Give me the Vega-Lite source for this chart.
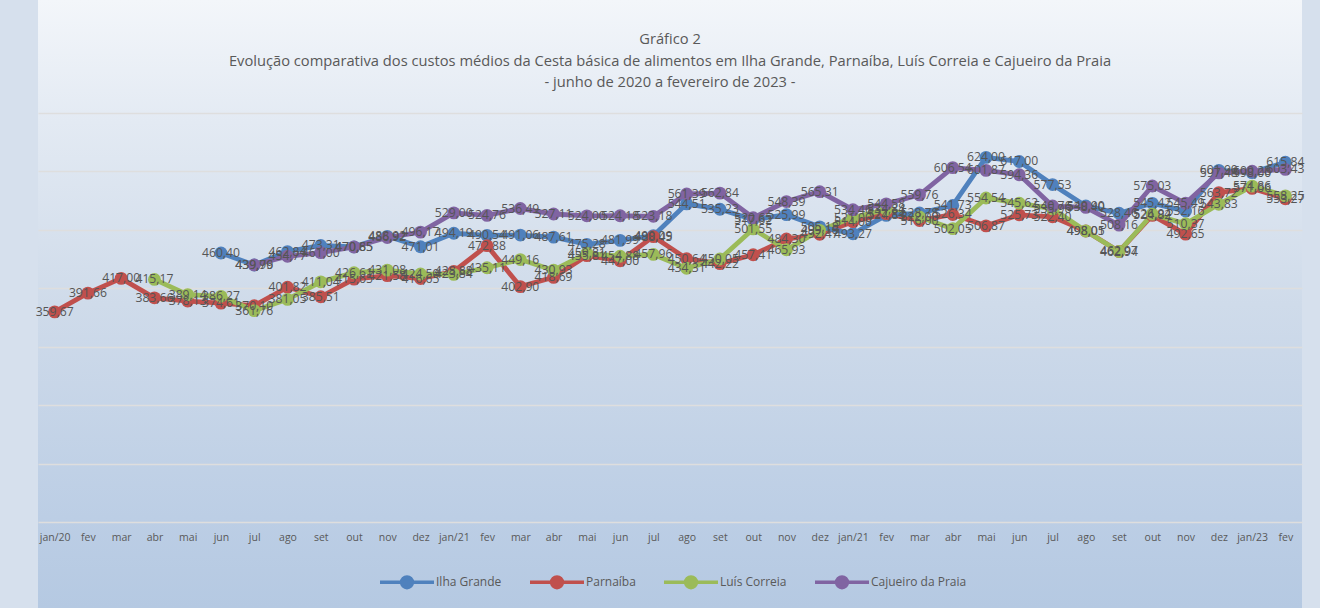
{
  "$schema": "https://vega.github.io/schema/vega-lite/v6.json",
  "width": 1264,
  "height": 608,
  "autosize": {"type": "none"},
  "padding": {"left": 38, "right": 18, "top": 0, "bottom": 0},
  "background": "#d6e0ed",
  "view": {
    "stroke": null,
    "fill": {"gradient": "linear", "x1": 0, "y1": 0, "x2": 0, "y2": 1,
      "stops": [{"offset": 0, "color": "#f3f6fa"}, {"offset": 0.2, "color": "#e3eaf3"}, {"offset": 0.5, "color": "#cfdbea"}, {"offset": 0.85, "color": "#bccee5"}, {"offset": 1, "color": "#b5c9e2"}]}
  },
  "title": {
    "text": ["Gráfico 2", "Evolução comparativa dos custos médios da Cesta básica de alimentos em Ilha Grande, Parnaíba, Luís Correia e Cajueiro da Praia", "- junho de 2020 a fevereiro de 2023 -"],
    "font": "Open Sans", "fontSize": 14.7, "fontWeight": "normal", "color": "#595959",
    "lineHeight": 21.5, "offset": -90, "anchor": "middle", "frame": "group"
  },
  "config": {
    "font": "Open Sans",
    "locale": {"number": {"decimal": ",", "thousands": ".", "grouping": [3], "currency": ["R$ ", ""]}}
  },
  "data": {"values": [
    {"i": 0, "Parnaíba": 359.67},
    {"i": 1, "Parnaíba": 391.66},
    {"i": 2, "Parnaíba": 417.00},
    {"i": 3, "Parnaíba": 383.66, "Luís Correia": 415.17},
    {"i": 4, "Parnaíba": 378.13, "Luís Correia": 389.14},
    {"i": 5, "Ilha Grande": 460.40, "Parnaíba": 374.61, "Luís Correia": 386.27},
    {"i": 6, "Ilha Grande": 439.79, "Parnaíba": 370.10, "Luís Correia": 361.76, "Cajueiro da Praia": 439.96},
    {"i": 7, "Ilha Grande": 462.84, "Parnaíba": 401.82, "Luís Correia": 381.05, "Cajueiro da Praia": 454.77},
    {"i": 8, "Ilha Grande": 473.31, "Parnaíba": 385.51, "Luís Correia": 411.04, "Cajueiro da Praia": 461.00},
    {"i": 9, "Ilha Grande": 470.85, "Parnaíba": 415.65, "Luís Correia": 426.61, "Cajueiro da Praia": 470.65},
    {"i": 10, "Ilha Grande": 488.92, "Parnaíba": 421.58, "Luís Correia": 431.08, "Cajueiro da Praia": 486.92},
    {"i": 11, "Ilha Grande": 471.01, "Parnaíba": 416.65, "Luís Correia": 424.50, "Cajueiro da Praia": 496.17},
    {"i": 12, "Ilha Grande": 494.19, "Parnaíba": 428.88, "Luís Correia": 423.84, "Cajueiro da Praia": 529.00},
    {"i": 13, "Ilha Grande": 490.54, "Parnaíba": 472.88, "Luís Correia": 435.11, "Cajueiro da Praia": 524.76},
    {"i": 14, "Ilha Grande": 491.06, "Parnaíba": 402.90, "Luís Correia": 449.16, "Cajueiro da Praia": 536.49},
    {"i": 15, "Ilha Grande": 487.61, "Parnaíba": 418.69, "Luís Correia": 430.93, "Cajueiro da Praia": 527.11},
    {"i": 16, "Ilha Grande": 475.28, "Parnaíba": 455.81, "Luís Correia": 459.81, "Cajueiro da Praia": 524.00},
    {"i": 17, "Ilha Grande": 481.99, "Parnaíba": 447.00, "Luís Correia": 454.88, "Cajueiro da Praia": 524.18},
    {"i": 18, "Ilha Grande": 490.09, "Parnaíba": 488.45, "Luís Correia": 457.96, "Cajueiro da Praia": 523.18},
    {"i": 19, "Ilha Grande": 544.51, "Parnaíba": 450.64, "Luís Correia": 434.31, "Cajueiro da Praia": 561.39},
    {"i": 20, "Ilha Grande": 535.23, "Parnaíba": 442.22, "Luís Correia": 450.05, "Cajueiro da Praia": 562.84},
    {"i": 21, "Ilha Grande": 517.62, "Parnaíba": 457.41, "Luís Correia": 501.55, "Cajueiro da Praia": 520.65},
    {"i": 22, "Ilha Grande": 525.99, "Parnaíba": 484.30, "Luís Correia": 465.93, "Cajueiro da Praia": 548.39},
    {"i": 23, "Ilha Grande": 505.18, "Parnaíba": 492.47, "Luís Correia": 499.18, "Cajueiro da Praia": 565.31},
    {"i": 24, "Ilha Grande": 493.27, "Parnaíba": 514.00, "Luís Correia": 521.00, "Cajueiro da Praia": 534.46},
    {"i": 25, "Ilha Grande": 524.83, "Parnaíba": 527.84, "Luís Correia": 534.84, "Cajueiro da Praia": 544.58},
    {"i": 26, "Ilha Grande": 528.78, "Parnaíba": 516.00, "Luís Correia": 522.00, "Cajueiro da Praia": 559.76},
    {"i": 27, "Ilha Grande": 541.73, "Parnaíba": 526.34, "Luís Correia": 502.05, "Cajueiro da Praia": 606.54},
    {"i": 28, "Ilha Grande": 624.00, "Parnaíba": 506.87, "Luís Correia": 554.54, "Cajueiro da Praia": 601.87},
    {"i": 29, "Ilha Grande": 617.00, "Parnaíba": 525.73, "Luís Correia": 545.62, "Cajueiro da Praia": 594.36},
    {"i": 30, "Ilha Grande": 577.53, "Parnaíba": 522.40, "Luís Correia": 535.96, "Cajueiro da Praia": 540.76},
    {"i": 31, "Ilha Grande": 540.90, "Parnaíba": 498.05, "Luís Correia": 498.01, "Cajueiro da Praia": 538.40},
    {"i": 32, "Ilha Grande": 528.46, "Parnaíba": 462.97, "Luís Correia": 462.94, "Cajueiro da Praia": 508.16},
    {"i": 33, "Ilha Grande": 545.42, "Parnaíba": 524.82, "Luís Correia": 526.94, "Cajueiro da Praia": 575.03},
    {"i": 34, "Ilha Grande": 532.16, "Parnaíba": 492.65, "Luís Correia": 510.37, "Cajueiro da Praia": 545.49},
    {"i": 35, "Ilha Grande": 601.90, "Parnaíba": 563.72, "Luís Correia": 543.83, "Cajueiro da Praia": 597.48},
    {"i": 36, "Ilha Grande": 598.00, "Parnaíba": 571.06, "Luís Correia": 574.86, "Cajueiro da Praia": 600.28},
    {"i": 37, "Ilha Grande": 615.84, "Parnaíba": 553.27, "Luís Correia": 558.25, "Cajueiro da Praia": 603.43}
  ]},
  "transform": [
    {"fold": ["Ilha Grande", "Parnaíba", "Luís Correia", "Cajueiro da Praia"], "as": ["serie", "valor"]},
    {"filter": "isValid(datum.valor)"}
  ],
  "encoding": {
    "x": {
      "field": "i", "type": "ordinal",
      "scale": {"type": "point", "padding": 0.5},
      "axis": {
        "title": null,
        "labelExpr": "['jan/20','fev','mar','abr','mai','jun','jul','ago','set','out','nov','dez','jan/21','fev','mar','abr','mai','jun','jul','ago','set','out','nov','dez','jan/21','fev','mar','abr','mai','jun','jul','ago','set','out','nov','dez','jan/23','fev'][datum.value]",
        "labelAngle": 0, "labelFontSize": 10.5, "labelColor": "#595959", "labelFont": "Open Sans",
        "domain": false, "ticks": false, "grid": false, "offset": -86, "labelPadding": 10
      }
    },
    "y": {
      "field": "valor", "type": "quantitative",
      "scale": {"domain": [-147.2, 893.4], "nice": false, "zero": false},
      "axis": {"values": [0, 100, 200, 300, 400, 500, 600, 700], "labels": false, "ticks": false, "domain": false, "title": null, "grid": true, "gridColor": "#dedede", "gridWidth": 1.6}
    }
  },
  "layer": [
    {
      "mark": {"type": "line", "strokeWidth": 4.8},
      "encoding": {
        "color": {
          "field": "serie", "type": "nominal",
          "scale": {"domain": ["Ilha Grande", "Parnaíba", "Luís Correia", "Cajueiro da Praia"], "range": ["#4F81BD", "#C0504D", "#9BBB59", "#8064A2"]},
          "legend": {
            "title": null, "orient": "none", "legendX": 340, "legendY": 553, "direction": "horizontal",
            "symbolType": "M-1,0L1,0M0.2,0A0.2,0.2,0,1,1,-0.2,0A0.2,0.2,0,1,1,0.2,0Z",
            "symbolSize": 2916, "symbolStrokeWidth": 3.5, "symbolOpacity": 1,
            "labelFontSize": 12, "labelColor": "#595959", "labelFont": "Open Sans", "labelOffset": 0, "columnPadding": 21,
            "encode": {"symbols": {"update": {"fill": {"scale": "color", "field": "value"}, "stroke": {"scale": "color", "field": "value"}, "opacity": {"value": 1}}}}
          }
        }
      }
    },
    {
      "mark": {"type": "circle", "size": 165, "opacity": 1},
      "encoding": {
        "color": {
          "field": "serie", "type": "nominal",
          "scale": {"domain": ["Ilha Grande", "Parnaíba", "Luís Correia", "Cajueiro da Praia"], "range": ["#4F81BD", "#C0504D", "#9BBB59", "#8064A2"]},
          "legend": {
            "title": null, "orient": "none", "legendX": 340, "legendY": 553, "direction": "horizontal",
            "symbolType": "M-1,0L1,0M0.2,0A0.2,0.2,0,1,1,-0.2,0A0.2,0.2,0,1,1,0.2,0Z",
            "symbolSize": 2916, "symbolStrokeWidth": 3.5, "symbolOpacity": 1,
            "labelFontSize": 12, "labelColor": "#595959", "labelFont": "Open Sans", "labelOffset": 0, "columnPadding": 21,
            "encode": {"symbols": {"update": {"fill": {"scale": "color", "field": "value"}, "stroke": {"scale": "color", "field": "value"}, "opacity": {"value": 1}}}}
          }
        }
      }
    },
    {
      "mark": {"type": "text", "fontSize": 12.2, "font": "Open Sans", "color": "#555555"},
      "encoding": {"text": {"field": "valor", "type": "quantitative", "format": ".2f"}}
    }
  ]
}
